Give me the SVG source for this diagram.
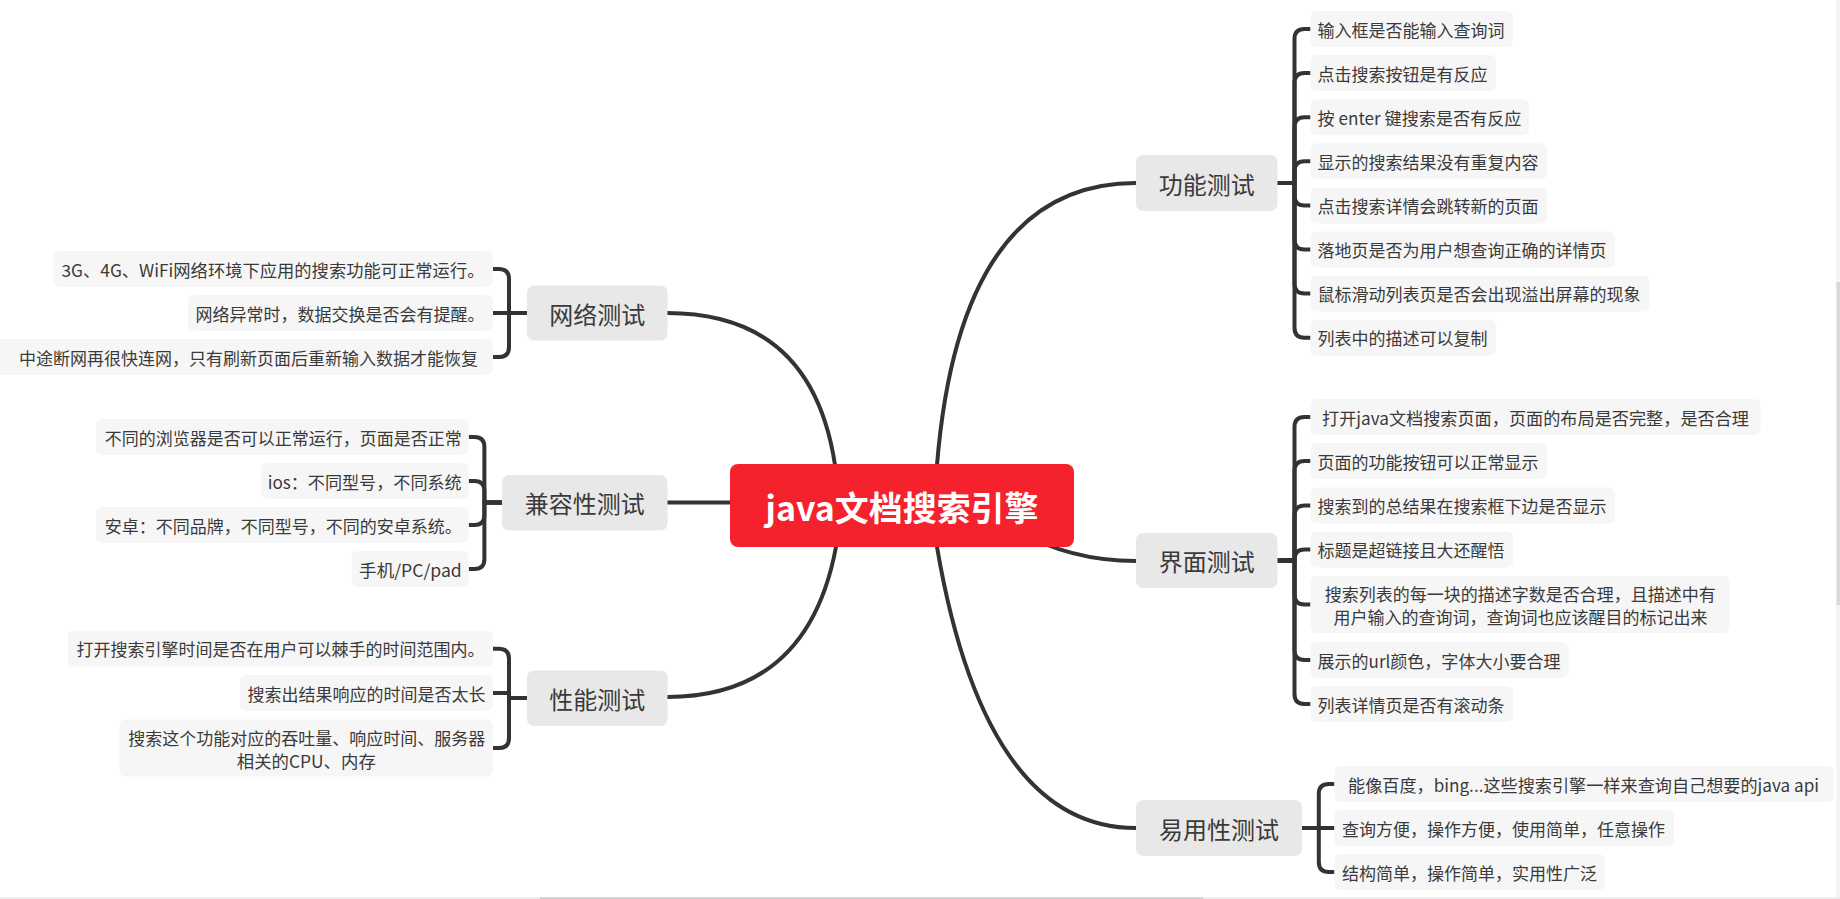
<svg xmlns="http://www.w3.org/2000/svg" width="1840" height="899" viewBox="0 0 1840 899">
<style>
.bg{fill:#FFFFFF}
.leaf{fill:#F6F6F6}
.lt{font-family:"Noto Sans CJK SC","Noto Sans",sans-serif;font-size:17px;fill:#3a3a3a}
.br{fill:#E8E8E8}
.bt{font-family:"Noto Sans CJK SC","Noto Sans",sans-serif;font-size:24px;fill:#3a3a3a}
.cn{fill:none;stroke:#333333;stroke-width:4;stroke-linecap:butt;stroke-linejoin:round}
.root{fill:#F5222D}
.rt{font-family:"Noto Sans CJK SC","Noto Sans",sans-serif;font-size:34px;font-weight:bold;fill:#FFFFFF}
</style>
<rect class="bg" x="0" y="0" width="1840" height="899"/>

<g id="connectors" class="cn">
  <path d="M937 478 L937 465 Q960 183 1136 183"/>
  <path d="M1000 520 Q1060 561 1136 561"/>
  <path d="M937 535 L937 547 Q985 828 1136 828"/>
  <path d="M835 478 L835 465 Q812 313 667 313"/>
  <path d="M667 502.5 L740 502.5"/>
  <path d="M836 535 L836 547 Q808 697 667 697"/>
  <path d="M1277.5 183 H1294.5 V39 Q1294.5 29 1304.5 29 H1310.5"/>
  <path d="M1277.5 183 H1294.5 V83.1 Q1294.5 73.1 1304.5 73.1 H1310.5"/>
  <path d="M1277.5 183 H1294.5 V127.2 Q1294.5 117.2 1304.5 117.2 H1310.5"/>
  <path d="M1277.5 183 H1294.5 V171.3 Q1294.5 161.3 1304.5 161.3 H1310.5"/>
  <path d="M1277.5 183 H1294.5 V195.4 Q1294.5 205.4 1304.5 205.4 H1310.5"/>
  <path d="M1277.5 183 H1294.5 V239.5 Q1294.5 249.5 1304.5 249.5 H1310.5"/>
  <path d="M1277.5 183 H1294.5 V283.6 Q1294.5 293.6 1304.5 293.6 H1310.5"/>
  <path d="M1277.5 183 H1294.5 V327.7 Q1294.5 337.7 1304.5 337.7 H1310.5"/>
  <path d="M1277.5 560.5 H1294.5 V427 Q1294.5 417 1304.5 417 H1310.5"/>
  <path d="M1277.5 560.5 H1294.5 V471 Q1294.5 461 1304.5 461 H1310.5"/>
  <path d="M1277.5 560.5 H1294.5 V515.5 Q1294.5 505.5 1304.5 505.5 H1310.5"/>
  <path d="M1277.5 560.5 H1294.5 V559.5 Q1294.5 549.5 1304.5 549.5 H1310.5"/>
  <path d="M1277.5 560.5 H1294.5 V594.5 Q1294.5 604.5 1304.5 604.5 H1310.5"/>
  <path d="M1277.5 560.5 H1294.5 V650 Q1294.5 660 1304.5 660 H1310.5"/>
  <path d="M1277.5 560.5 H1294.5 V694 Q1294.5 704 1304.5 704 H1310.5"/>
  <path d="M1302 828 H1318.8 V794 Q1318.8 784 1328.8 784 H1334.4"/>
  <path d="M1302 828 H1334.4"/>
  <path d="M1302 828 H1318.8 V862 Q1318.8 872 1328.8 872 H1334.4"/>
  <path d="M527 313 H509 V279 Q509 269 499 269 H493"/>
  <path d="M527 313 H493"/>
  <path d="M527 313 H509 V347 Q509 357 499 357 H493"/>
  <path d="M502 502.5 H484.4 V447 Q484.4 437 474.4 437 H468.7"/>
  <path d="M502 502.5 H484.4 V491 Q484.4 481 474.4 481 H468.7"/>
  <path d="M502 502.5 H484.4 V515 Q484.4 525 474.4 525 H468.7"/>
  <path d="M502 502.5 H484.4 V559 Q484.4 569 474.4 569 H468.7"/>
  <path d="M527 698 H509 V658.7 Q509 648.7 499 648.7 H493"/>
  <path d="M509 693 H493"/>
  <path d="M527 698 H509 V738 Q509 748 499 748 H493"/>
</g>

<g id="root">
  <rect class="root" x="730" y="464" width="344" height="83" rx="8"/>
  <text class="rt" x="902" y="506" text-anchor="middle" dominant-baseline="central" textLength="273" lengthAdjust="spacingAndGlyphs">java文档搜索引擎</text>
</g>

<g id="n-gongneng">
  <rect class="br" x="1136" y="155" width="141.5" height="56" rx="7"/>
  <text class="bt" x="1206.7" y="183" text-anchor="middle" dominant-baseline="central">功能测试</text>
</g>
<g id="n-jiemian">
  <rect class="br" x="1136" y="533" width="141.5" height="55" rx="7"/>
  <text class="bt" x="1206.7" y="560.5" text-anchor="middle" dominant-baseline="central">界面测试</text>
</g>
<g id="n-yiyong">
  <rect class="br" x="1136" y="800" width="166" height="56" rx="7"/>
  <text class="bt" x="1219" y="828" text-anchor="middle" dominant-baseline="central">易用性测试</text>
</g>
<g id="n-wangluo">
  <rect class="br" x="527" y="285.5" width="140.5" height="55" rx="7"/>
  <text class="bt" x="597.2" y="313" text-anchor="middle" dominant-baseline="central">网络测试</text>
</g>
<g id="n-jianrong">
  <rect class="br" x="502" y="475" width="165.5" height="55.5" rx="7"/>
  <text class="bt" x="584.7" y="502.7" text-anchor="middle" dominant-baseline="central">兼容性测试</text>
</g>
<g id="n-xingneng">
  <rect class="br" x="527" y="670.5" width="140.5" height="55.5" rx="7"/>
  <text class="bt" x="597.2" y="698" text-anchor="middle" dominant-baseline="central">性能测试</text>
</g>

<g id="a1"><rect class="leaf" x="1310.5" y="11" width="202.5" height="36" rx="6"/><text class="lt" x="1317.5" y="29" dominant-baseline="central">输入框是否能输入查询词</text></g>
<g id="a2"><rect class="leaf" x="1310.5" y="55.1" width="185.5" height="36" rx="6"/><text class="lt" x="1317.5" y="73.1" dominant-baseline="central">点击搜索按钮是有反应</text></g>
<g id="a3"><rect class="leaf" x="1310.5" y="99.2" width="218.5" height="36" rx="6"/><text class="lt" x="1317.5" y="117.2" dominant-baseline="central" textLength="204" lengthAdjust="spacingAndGlyphs">按 enter 键搜索是否有反应</text></g>
<g id="a4"><rect class="leaf" x="1310.5" y="143.3" width="236.5" height="36" rx="6"/><text class="lt" x="1317.5" y="161.3" dominant-baseline="central">显示的搜索结果没有重复内容</text></g>
<g id="a5"><rect class="leaf" x="1310.5" y="187.4" width="236.5" height="36" rx="6"/><text class="lt" x="1317.5" y="205.4" dominant-baseline="central">点击搜索详情会跳转新的页面</text></g>
<g id="a6"><rect class="leaf" x="1310.5" y="231.5" width="304.5" height="36" rx="6"/><text class="lt" x="1317.5" y="249.5" dominant-baseline="central">落地页是否为用户想查询正确的详情页</text></g>
<g id="a7"><rect class="leaf" x="1310.5" y="275.6" width="339" height="36" rx="6"/><text class="lt" x="1317.5" y="293.6" dominant-baseline="central">鼠标滑动列表页是否会出现溢出屏幕的现象</text></g>
<g id="a8"><rect class="leaf" x="1310.5" y="319.7" width="185.5" height="36" rx="6"/><text class="lt" x="1317.5" y="337.7" dominant-baseline="central">列表中的描述可以复制</text></g>

<g id="b1"><rect class="leaf" x="1310.5" y="399" width="450" height="36" rx="6"/><text class="lt" x="1322" y="417" dominant-baseline="central" textLength="427" lengthAdjust="spacingAndGlyphs">打开java文档搜索页面，页面的布局是否完整，是否合理</text></g>
<g id="b2"><rect class="leaf" x="1310.5" y="443" width="236.5" height="36" rx="6"/><text class="lt" x="1317.5" y="461" dominant-baseline="central">页面的功能按钮可以正常显示</text></g>
<g id="b3"><rect class="leaf" x="1310.5" y="487.5" width="304.5" height="36" rx="6"/><text class="lt" x="1317.5" y="505.5" dominant-baseline="central">搜索到的总结果在搜索框下边是否显示</text></g>
<g id="b4"><rect class="leaf" x="1310.5" y="531.5" width="202.5" height="36" rx="6"/><text class="lt" x="1317.5" y="549.5" dominant-baseline="central">标题是超链接且大还醒悟</text></g>
<g id="b5"><rect class="leaf" x="1310.5" y="576" width="419.2" height="57" rx="6"/><text class="lt" x="1520.2" y="593.5" text-anchor="middle" dominant-baseline="central">搜索列表的每一块的描述字数是否合理，且描述中有</text><text class="lt" x="1520.5" y="616" text-anchor="middle" dominant-baseline="central">用户输入的查询词，查询词也应该醒目的标记出来</text></g>
<g id="b6"><rect class="leaf" x="1310.5" y="642" width="258" height="36" rx="6"/><text class="lt" x="1317.5" y="660" dominant-baseline="central" textLength="243" lengthAdjust="spacingAndGlyphs">展示的url颜色，字体大小要合理</text></g>
<g id="b7"><rect class="leaf" x="1310.5" y="686" width="202.5" height="36" rx="6"/><text class="lt" x="1317.5" y="704" dominant-baseline="central">列表详情页是否有滚动条</text></g>

<g id="c1"><rect class="leaf" x="1334.4" y="766" width="499.6" height="36" rx="6"/><text class="lt" x="1348" y="784" dominant-baseline="central" textLength="471" lengthAdjust="spacingAndGlyphs">能像百度，bing...这些搜索引擎一样来查询自己想要的java api</text></g>
<g id="c2"><rect class="leaf" x="1334.4" y="810" width="339.6" height="36" rx="6"/><text class="lt" x="1342" y="828" dominant-baseline="central">查询方便，操作方便，使用简单，任意操作</text></g>
<g id="c3"><rect class="leaf" x="1334.4" y="854" width="270.6" height="36" rx="6"/><text class="lt" x="1342" y="872" dominant-baseline="central">结构简单，操作简单，实用性广泛</text></g>

<g id="d1"><rect class="leaf" x="53.6" y="251" width="439.4" height="36" rx="6"/><text class="lt" x="484.5" y="269" text-anchor="end" dominant-baseline="central" textLength="423" lengthAdjust="spacingAndGlyphs">3G、4G、WiFi网络环境下应用的搜索功能可正常运行。</text></g>
<g id="d2"><rect class="leaf" x="188" y="295" width="305" height="36" rx="6"/><text class="lt" x="484.5" y="313" text-anchor="end" dominant-baseline="central">网络异常时，数据交换是否会有提醒。</text></g>
<g id="d3"><rect class="leaf" x="-6" y="339" width="499" height="36" rx="6"/><text class="lt" x="478" y="357" text-anchor="end" dominant-baseline="central">中途断网再很快连网，只有刷新页面后重新输入数据才能恢复</text></g>

<g id="e1"><rect class="leaf" x="96" y="419" width="372.7" height="36" rx="6"/><text class="lt" x="461.7" y="437" text-anchor="end" dominant-baseline="central">不同的浏览器是否可以正常运行，页面是否正常</text></g>
<g id="e2"><rect class="leaf" x="261" y="463" width="207.7" height="36" rx="6"/><text class="lt" x="461.7" y="481" text-anchor="end" dominant-baseline="central" textLength="194" lengthAdjust="spacingAndGlyphs">ios：不同型号，不同系统</text></g>
<g id="e3"><rect class="leaf" x="96" y="507" width="372.7" height="36" rx="6"/><text class="lt" x="461.7" y="525" text-anchor="end" dominant-baseline="central">安卓：不同品牌，不同型号，不同的安卓系统。</text></g>
<g id="e4"><rect class="leaf" x="351.8" y="551" width="116.9" height="36" rx="6"/><text class="lt" x="461.7" y="569" text-anchor="end" dominant-baseline="central" textLength="102.6" lengthAdjust="spacingAndGlyphs">手机/PC/pad</text></g>

<g id="f1"><rect class="leaf" x="67.9" y="630.7" width="425.1" height="36" rx="6"/><text class="lt" x="484.5" y="648.7" text-anchor="end" dominant-baseline="central">打开搜索引擎时间是否在用户可以棘手的时间范围内。</text></g>
<g id="f2"><rect class="leaf" x="240" y="675" width="253" height="36" rx="6"/><text class="lt" x="485.5" y="693" text-anchor="end" dominant-baseline="central">搜索出结果响应的时间是否太长</text></g>
<g id="f3"><rect class="leaf" x="119.6" y="719.5" width="373.4" height="57" rx="6"/><text class="lt" x="306.8" y="737.3" text-anchor="middle" dominant-baseline="central">搜索这个功能对应的吞吐量、响应时间、服务器</text><text class="lt" x="306.3" y="760" text-anchor="middle" dominant-baseline="central" textLength="139" lengthAdjust="spacingAndGlyphs">相关的CPU、内存</text></g>

<rect x="1836" y="0" width="4" height="899" fill="#F4F4F4"/>
<rect x="1836.5" y="282" width="3.5" height="323" fill="#D9D9D9"/>
<rect x="0" y="897" width="1840" height="2" fill="#EEEEEE"/>
<rect x="540" y="897.3" width="663" height="1.7" fill="#CFCFCF"/>
</svg>
